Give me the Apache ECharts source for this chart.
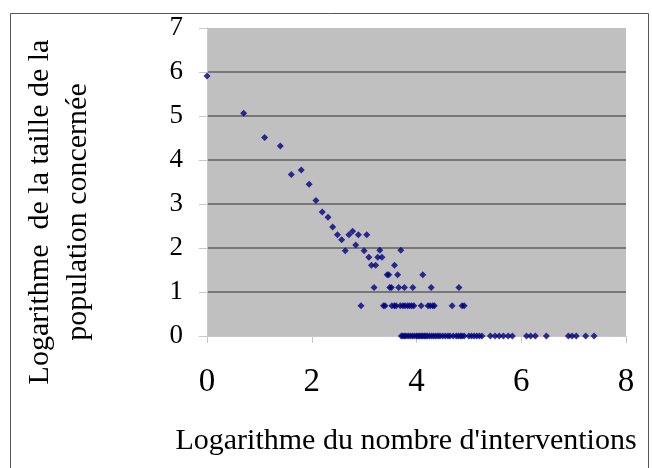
<!DOCTYPE html>
<html>
<head>
<meta charset="utf-8">
<script src="https://cdn.jsdelivr.net/npm/echarts@6/dist/echarts.min.js"></script>
<style>
html,body{margin:0;padding:0;background:#fff;}
#chart{width:652px;height:468px;}
</style>
</head>
<body>
<div id="chart"></div>
<script>
// Titles
const xTitle = "Logarithme du nombre d'interventions";
const yTitleLines = ["Logarithme  de la taille de la", "population concernée"];

// Axis ticks
const xTicks = [0, 2, 4, 6, 8];
const yTicks = [0, 1, 2, 3, 4, 5, 6, 7];

// Diagonal (upper) points
const upperX = [0.00, 0.70, 1.10, 1.40, 1.61, 1.80, 1.95, 2.08, 2.20, 2.31, 2.40, 2.49, 2.57, 2.64, 2.71, 2.78, 2.84, 2.89, 3.00, 3.05];
const upperY = [5.91, 5.06, 4.51, 4.32, 3.67, 3.77, 3.45, 3.08, 2.82, 2.70, 2.48, 2.30, 2.19, 1.94, 2.30, 2.38, 2.07, 2.30, 1.94, 2.30];

// Points on discrete levels
const midX = [3.09, 3.26, 3.34, 3.30, 3.70, 3.14, 3.22, 3.58, 3.44, 3.47, 3.64, 4.12, 3.19, 3.49, 3.52, 3.66, 3.77, 3.93, 4.28, 4.81];
const midY = [1.79, 1.79, 1.79, 1.95, 1.95, 1.61, 1.61, 1.61, 1.39, 1.39, 1.39, 1.39, 1.10, 1.10, 1.10, 1.10, 1.10, 1.10, 1.10, 1.10];

// Level ln(2) ~ 0.69
const lowX = [2.94, 3.37, 3.40, 3.53, 3.58, 3.61, 3.69, 3.74, 3.78, 3.83, 3.87, 3.91, 3.95, 4.09, 4.22, 4.26, 4.31, 4.34, 4.68, 4.87, 4.91];
const lowY = [0.69, 0.69, 0.69, 0.69, 0.69, 0.69, 0.69, 0.69, 0.69, 0.69, 0.69, 0.69, 0.69, 0.69, 0.69, 0.69, 0.69, 0.69, 0.69, 0.69, 0.69];

// Level 0
const zeroX = [3.71, 3.74, 3.77, 3.80, 3.84, 3.88, 3.92, 3.96, 4.00, 4.03, 4.06, 4.09, 4.12, 4.15, 4.18, 4.21, 4.25, 4.29, 4.33, 4.37, 4.41, 4.45, 4.50, 4.55, 4.60, 4.64, 4.70, 4.76, 4.80, 4.84, 4.87, 4.91, 5.00, 5.05, 5.10, 5.15, 5.20, 5.25, 5.41, 5.50, 5.58, 5.66, 5.75, 5.83, 6.10, 6.18, 6.27, 6.48, 6.90, 6.97, 7.05, 7.23, 7.39];
const zeroY = [0, 0, 0, 0, 0, 0, 0, 0, 0, 0, 0, 0, 0, 0, 0, 0, 0, 0, 0, 0, 0, 0, 0, 0, 0, 0, 0, 0, 0, 0, 0, 0, 0, 0, 0, 0, 0, 0, 0, 0, 0, 0, 0, 0, 0, 0, 0, 0, 0, 0, 0, 0, 0];

function pairs(xs, ys) { return xs.map((x, i) => [x, ys[i]]); }
const data = [].concat(pairs(upperX, upperY), pairs(midX, midY), pairs(lowX, lowY), pairs(zeroX, zeroY));

const chart = echarts.init(document.getElementById('chart'), null, {renderer: 'canvas'});
const serif = '"Liberation Serif", "Times New Roman", serif';
chart.setOption({
  animation: false,
  backgroundColor: '#ffffff',
  grid: {left: 207, top: 28, width: 419, height: 308, show: true, backgroundColor: '#c0c0c0', borderWidth: 0},
  xAxis: {
    type: 'value', min: xTicks[0], max: xTicks[xTicks.length - 1], interval: 2,
    axisLine: {show: true, onZero: false, lineStyle: {color: '#c8c8c8', width: 1}},
    axisTick: {show: true, length: 7, lineStyle: {color: '#c8c8c8'}},
    splitLine: {show: false},
    axisLabel: {fontFamily: serif, fontSize: 33, color: '#000', margin: 30}
  },
  yAxis: {
    type: 'value', min: yTicks[0], max: yTicks[yTicks.length - 1], interval: 1,
    axisLine: {show: true, lineStyle: {color: '#c8c8c8', width: 1}},
    axisTick: {show: true, length: 8, lineStyle: {color: '#c8c8c8'}},
    splitLine: {show: true, lineStyle: {color: ['rgba(0,0,0,0)', '#777', '#777', '#777', '#777', '#777', '#777', 'rgba(0,0,0,0)'], width: 2}},
    axisLabel: {fontFamily: serif, fontSize: 27, color: '#000', margin: 24}
  },
  series: [{
    type: 'scatter',
    symbol: 'diamond',
    symbolSize: 7,
    itemStyle: {color: '#000080'},
    data: data
  }],
  graphic: [
    {type: 'rect', shape: {x: 10.5, y: 13.5, width: 638, height: 470}, style: {fill: 'none', stroke: '#555', lineWidth: 1}, z: -1},
    {type: 'text', x: 406, y: 441, style: {text: xTitle, font: '30px ' + serif, fill: '#000', textAlign: 'center', textVerticalAlign: 'middle'}},
    {type: 'text', x: 59, y: 212, rotation: Math.PI / 2, style: {text: yTitleLines.join('\n'), font: '30px ' + serif, lineHeight: 38, fill: '#000', textAlign: 'center', textVerticalAlign: 'middle'}}
  ]
});
</script>
</body>
</html>
